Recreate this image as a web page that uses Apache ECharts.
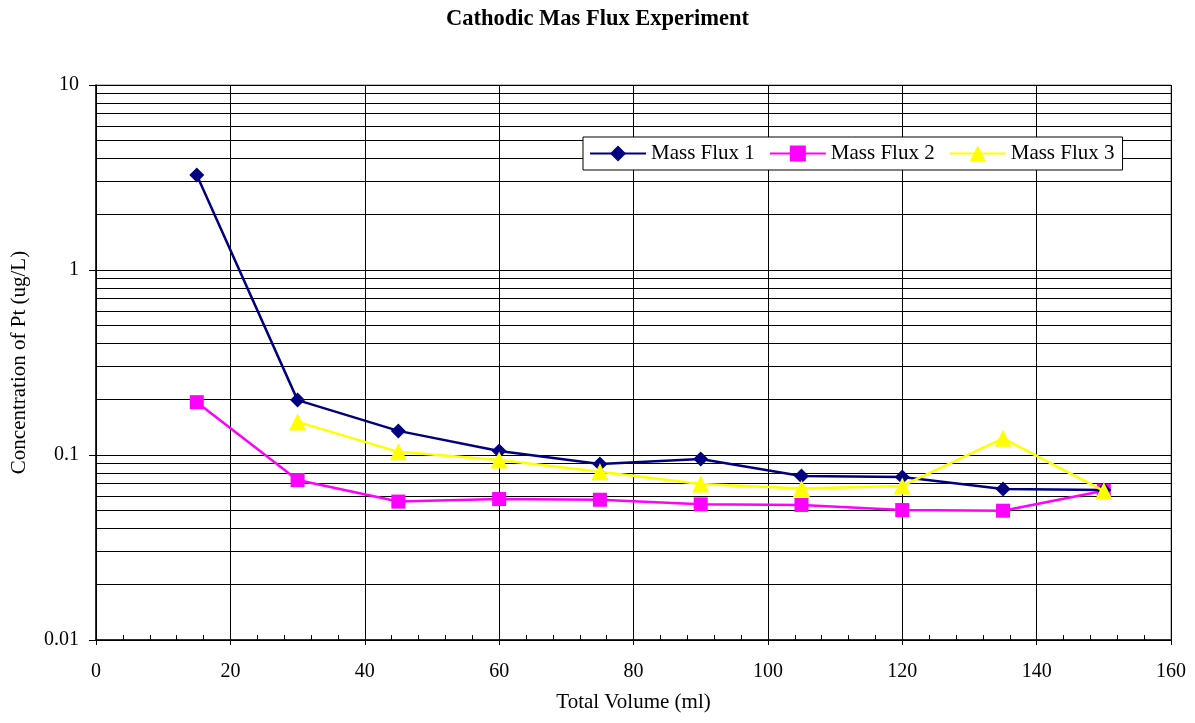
<!DOCTYPE html>
<html><head><meta charset="utf-8">
<script src="https://cdn.jsdelivr.net/npm/echarts@6/dist/echarts.min.js"></script>
<style>html,body{margin:0;padding:0;background:#fff}#c{width:1195px;height:723px}</style>
</head><body><div id="c"></div>
<script>
var volumes = [15, 30, 45, 60, 75, 90, 105, 120, 135, 150];
var massFlux1 = [3.26, 0.198, 0.135, 0.105, 0.0894, 0.0951, 0.077, 0.076, 0.0655, 0.0647];
var massFlux2 = [0.193, 0.0732, 0.056, 0.0578, 0.0573, 0.0541, 0.0537, 0.0504, 0.0500, 0.0641];
var massFlux3 = [null, 0.151, 0.104, 0.094, 0.0812, 0.0697, 0.066, 0.068, 0.123, 0.064];
var minorYValues = [0.02,0.03,0.04,0.05,0.06,0.07,0.08,0.09,0.2,0.3,0.4,0.5,0.6,0.7,0.8,0.9,2,3,4,5,6,7,8,9];

function pairs(arr){ var out=[]; for(var i=0;i<volumes.length;i++){ if(arr[i]!=null) out.push([volumes[i], arr[i]]); } return out; }
var font = 'Liberation Serif';
var chart = echarts.init(document.getElementById('c'));
chart.setOption({
  animation: false,
  backgroundColor: '#fff',
  title: { text: 'Cathodic Mas Flux Experiment', left: 'center', top: 3,
    textStyle: { fontFamily: font, fontWeight: 'bold', fontSize: 22.5, color: '#000' } },
  grid: { left: 96, right: 24, top: 85, bottom: 83, show: true, borderColor: '#808080', borderWidth: 1, backgroundColor: '#fff' },
  legend: {
    left: 583, top: 137, padding: [6, 8, 6, 6], itemGap: 14, itemWidth: 56, itemHeight: 20,
    backgroundColor: '#fff', borderColor: '#000', borderWidth: 1,
    textStyle: { fontFamily: font, fontSize: 21, color: '#000' },
    data: ['Mass Flux 1', 'Mass Flux 2', 'Mass Flux 3']
  },
  xAxis: [{
    type: 'value', min: 0, max: 160, interval: 20,
    name: 'Total Volume (ml)', nameLocation: 'middle', nameGap: 52,
    nameTextStyle: { fontFamily: font, fontSize: 21, color: '#000' },
    axisLine: { show: true, onZero: false, lineStyle: { color: '#000', width: 1.5 } },
    axisTick: { show: true, inside: true, length: 5, lineStyle: { color: '#000' } },
    minorTick: { show: true, splitNumber: 5, length: 5, lineStyle: { color: '#000' } },
    axisLabel: { fontFamily: font, fontSize: 20, color: '#000', margin: 22 },
    splitLine: { show: true, lineStyle: { color: '#000', width: 1 } }
  }, {
    type: 'value', min: 0, max: 160, interval: 20, position: 'bottom',
    axisLine: { show: false }, axisLabel: { show: false }, splitLine: { show: false },
    axisTick: { show: true, inside: false, length: 5, lineStyle: { color: '#000' } }
  }],
  yAxis: {
    type: 'log', min: 0.01, max: 10, logBase: 10,
    name: 'Concentration of Pt (ug/L)', nameLocation: 'middle', nameGap: 66,
    nameTextStyle: { fontFamily: font, fontSize: 21, color: '#000' },
    axisLine: { show: true, onZero: false, lineStyle: { color: '#000', width: 1.5 } },
    axisTick: { show: true, length: 7, lineStyle: { color: '#000' } },
    axisLabel: { fontFamily: font, fontSize: 20, color: '#000', margin: 17,
      formatter: function(v){ return String(+v.toPrecision(3)); } },
    splitLine: { show: true, lineStyle: { color: '#000', width: 1 } }
  },
  series: [{
    name: 'Mass Flux 1', type: 'line', data: pairs(massFlux1),
    symbol: 'diamond', symbolSize: 15, color: '#000080',
    lineStyle: { color: '#000080', width: 2.5 }, itemStyle: { color: '#000080' }, z: 5,
    markLine: { silent: true, symbol: 'none', label: { show: false }, animation: false,
      lineStyle: { color: '#000', width: 1, type: 'solid' },
      data: minorYValues.map(function(v){ return { yAxis: v }; }), z: 1 }
  }, {
    name: 'Mass Flux 2', type: 'line', data: pairs(massFlux2),
    symbol: 'rect', symbolSize: 14, color: '#FF00FF',
    lineStyle: { color: '#FF00FF', width: 2.5 }, itemStyle: { color: '#FF00FF' }, z: 4
  }, {
    name: 'Mass Flux 3', type: 'line', data: pairs(massFlux3),
    symbol: 'triangle', symbolSize: 17, color: '#FFFF00',
    lineStyle: { color: '#FFFF00', width: 2.5 }, itemStyle: { color: '#FFFF00' }, z: 6
  }]
});
</script></body></html>
